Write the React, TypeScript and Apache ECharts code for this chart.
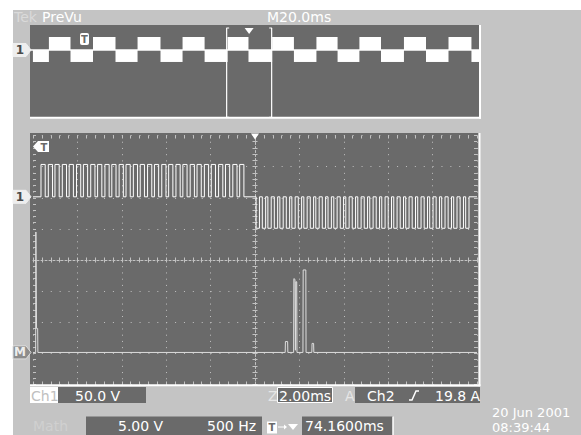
import React, { useEffect, useRef } from "react";
import * as echarts from "echarts";

// ---------- colours ----------
const BG = "#c4c4c4";
const PANEL = "#6a6a6a";
const DOT = "#c2c2c2";
const FONT = "DejaVu Sans";

// ---------- PreVu (record overview), M 20.0 ms/div, 0..200 ms ----------
const previewMinMs = 0;
const previewMaxMs = 200;
// times (ms) where the envelope switches between "pulses below" and "pulses above"
const previewEdgesMs = [1.3, 8.4, 18.0, 28.0, 38.0, 47.8, 58.0, 67.8, 77.6, 87.8, 97.1, 107.6, 117.3, 127.3, 136.7, 146.4, 156.0, 166.2, 176.0, 186.0, 196.2, 199.6];
const previewFirstIsLow = true;
const previewBase = 1.85;
const previewHigh = 2.97;
const previewLow = 0.82;
const previewTriggerMs = 97.4;
const zoomHalfSpanMs = 10;
const zoomBoxTop = 3.74;
const zoomBoxBottom = -3.95;
const zoomHookMs = 1.1;

// ---------- main window, 2.00 ms/div, divisions -4..4 ----------
const timeMin = -10;
const timeMax = 10;
const timeInterval = 2;
const divMin = -4;
const divMax = 4;

const ch1Base = 2.03;
const ch1High = 3.07;
const ch1Low = 1.02;
const ch1UpStartsMs = [-9.64, -9.31, -9.01, -8.68, -8.37, -8.04, -7.73, -7.4, -7.09, -6.76, -6.45, -6.12, -5.81, -5.48, -5.17, -4.84, -4.53, -4.2, -3.89, -3.56, -3.25, -2.92, -2.61, -2.28, -1.97, -1.64, -1.33, -1.0, -0.69];
const ch1UpWidthMs = 0.19;
const ch1DownStartsMs = [0.05, 0.33, 0.58, 0.87, 1.12, 1.41, 1.66, 1.95, 2.2, 2.49, 2.74, 3.03, 3.29, 3.55, 3.84, 4.09, 4.38, 4.63, 4.92, 5.17, 5.46, 5.71, 6.0, 6.25, 6.54, 6.79, 7.08, 7.33, 7.62, 7.87, 8.16, 8.41, 8.7, 8.95, 9.24, 9.49];
const ch1DownWidthMs = 0.15;

const mathTrace = [
  [-10, -2.97], [-9.88, -2.97], [-9.87, 0.9], [-9.85, 0.9], [-9.84, -2.2], [-9.79, -2.2], [-9.78, -2.97],
  [1.36, -2.97], [1.37, -2.62], [1.47, -2.62], [1.48, -2.97],
  [1.74, -2.97], [1.75, -0.6], [1.8, -0.62], [1.82, -2.9], [1.84, -0.7], [1.88, -0.7], [1.89, -2.97],
  [2.16, -2.97], [2.17, -0.32], [2.29, -0.32], [2.3, -2.97],
  [2.56, -2.97], [2.57, -2.68], [2.64, -2.68], [2.65, -2.97],
  [10, -2.97],
];

function buildPreviewBlocks() {
  const out: number[][] = [];
  for (let i = 0; i < previewEdgesMs.length - 1; i++) {
    const low = (i % 2 === 0) === previewFirstIsLow;
    out.push([previewEdgesMs[i], previewEdgesMs[i + 1], low ? previewBase : previewHigh, low ? previewLow : previewBase]);
  }
  return out;
}

function buildCh1() {
  const pts: number[][] = [[timeMin, ch1Base]];
  ch1UpStartsMs.forEach((s) => {
    pts.push([s, ch1Base], [s, ch1High], [s + ch1UpWidthMs, ch1High], [s + ch1UpWidthMs, ch1Base]);
  });
  ch1DownStartsMs.forEach((s) => {
    pts.push([s, ch1Base], [s, ch1Low], [s + ch1DownWidthMs, ch1Low], [s + ch1DownWidthMs, ch1Base]);
  });
  pts.push([timeMax, ch1Base]);
  return pts;
}

function txt(text: string, x: number, y: number, fill: string, size = 14, extra: any = {}) {
  return {
    type: "text",
    z: 100,
    x,
    y,
    style: {
      text,
      fill,
      fontSize: size,
      fontFamily: FONT,
      verticalAlign: "middle",
      textVerticalAlign: "middle",
      ...extra,
    },
  };
}

function marker(label: string, y: number, fill: string, textFill: string, stroke?: string) {
  return [
    {
      type: "polygon",
      z: 100,
      shape: { points: [[13, y - 6.5], [26, y - 6.5], [31, y], [26, y + 6.5], [13, y + 6.5]] },
      style: { fill, stroke: stroke || fill, lineWidth: 1 },
    },
    txt(label, 20, y, textFill, 12, { align: "center", textAlign: "center", fontWeight: "bold" }),
  ];
}

const tickStyle = { color: DOT, width: 1 };

export default function App() {
  const ref = useRef<HTMLDivElement>(null);

  useEffect(() => {
    if (!ref.current) return;
    const chart = echarts.init(ref.current, undefined, { renderer: "svg" });

    const hidden = { show: false };
    const borderAxisX = (gridIndex: number, position: string, split: boolean) => ({
      type: "value",
      gridIndex,
      position,
      min: timeMin,
      max: timeMax,
      interval: timeInterval,
      axisLine: { show: false, onZero: false },
      axisTick: { show: true, inside: true, length: 3, lineStyle: tickStyle },
      minorTick: { show: true, splitNumber: 5, length: 3, lineStyle: tickStyle },
      axisLabel: hidden,
      splitLine: { show: split, lineStyle: { color: DOT, width: 1, type: [1, 5.225] } },
    });
    const borderAxisY = (gridIndex: number, position: string, split: boolean) => ({
      type: "value",
      gridIndex,
      position,
      min: divMin,
      max: divMax,
      interval: 1,
      axisLine: { show: false, onZero: false },
      axisTick: { show: true, inside: true, length: 3, lineStyle: tickStyle },
      minorTick: { show: true, splitNumber: 5, length: 3, lineStyle: tickStyle },
      axisLabel: hidden,
      splitLine: { show: split, lineStyle: { color: DOT, width: 1, type: [1, 7.88] } },
    });
    const crossAxisX = (gridIndex: number, inside: boolean, line: boolean) => ({
      type: "value",
      gridIndex,
      min: timeMin,
      max: timeMax,
      interval: timeInterval,
      axisLine: { show: line, onZero: true, lineStyle: { color: DOT, width: 1, type: [2, 2] } },
      axisTick: { show: true, inside, length: 2.5, lineStyle: tickStyle },
      minorTick: { show: true, splitNumber: 5, length: 2.5, lineStyle: tickStyle },
      axisLabel: hidden,
      splitLine: hidden,
    });
    const crossAxisY = (gridIndex: number, inside: boolean, line: boolean) => ({
      type: "value",
      gridIndex,
      min: divMin,
      max: divMax,
      interval: 1,
      axisLine: { show: line, onZero: true, lineStyle: { color: DOT, width: 1, type: [2, 2] } },
      axisTick: { show: true, inside, length: 2.5, lineStyle: tickStyle },
      minorTick: { show: true, splitNumber: 5, length: 2.5, lineStyle: tickStyle },
      axisLabel: hidden,
      splitLine: hidden,
    });

    const mainGrid = { left: 33, top: 135.5, width: 444, height: 249 };

    const graphics: any[] = [
      { type: "rect", z: -100, shape: { x: 13, y: 10, width: 568, height: 425 }, style: { fill: BG } },
      { type: "rect", z: -90, shape: { x: 30, y: 25, width: 449, height: 93 }, style: { fill: PANEL } },
      { type: "rect", z: -90, shape: { x: 30, y: 133, width: 448.5, height: 252 }, style: { fill: PANEL } },
      // bevel edges
      { type: "line", z: 60, shape: { x1: 30, y1: 117.7, x2: 481, y2: 117.7 }, style: { stroke: "#fff", lineWidth: 2 } },
      { type: "line", z: 60, shape: { x1: 480, y1: 25, x2: 480, y2: 118.7 }, style: { stroke: "#fff", lineWidth: 2 } },
      { type: "line", z: 60, shape: { x1: 30, y1: 385.3, x2: 480.5, y2: 385.3 }, style: { stroke: "#fff", lineWidth: 2 } },
      { type: "line", z: 60, shape: { x1: 479.5, y1: 133, x2: 479.5, y2: 386.3 }, style: { stroke: "#fff", lineWidth: 2 } },
      // header
      txt("Tek", 14, 17, "#dadada"),
      txt("PreVu", 42, 17, "#ffffff"),
      txt("M20.0ms", 267, 17, "#ffffff"),
      // preview trigger-point flag
      { type: "rect", z: 100, shape: { x: 80, y: 33, width: 9, height: 12, r: 2 }, style: { fill: "#ffffff" } },
      txt("T", 84.5, 39.5, PANEL, 10, { align: "center", textAlign: "center", fontWeight: "bold" }),
      // main trigger-point flag (off-screen to the left)
      { type: "polygon", z: 100, shape: { points: [[33, 146.5], [38, 141], [49, 141], [49, 152], [38, 152]] }, style: { fill: "#ffffff" } },
      txt("T", 44, 147, PANEL, 10, { align: "center", textAlign: "center", fontWeight: "bold" }),
      // channel markers
      ...marker("1", 50, "#eeeeee", "#4a4a4a"),
      ...marker("1", 196.8, "#eeeeee", "#4a4a4a"),
      ...marker("M", 352.4, "#8c8c8c", "#eeeeee", "#dddddd"),
      // bottom readouts, row 1
      { type: "rect", z: 90, shape: { x: 30, y: 387, width: 28, height: 16 }, style: { fill: "#ffffff" } },
      txt("Ch1", 31, 395.5, "#c0c0c0"),
      { type: "rect", z: 90, shape: { x: 58, y: 387, width: 88, height: 16 }, style: { fill: PANEL } },
      txt("50.0 V", 75, 395.5, "#ffffff"),
      txt("Z", 268, 395.5, "#e6e6e6"),
      { type: "rect", z: 90, shape: { x: 277.5, y: 387.5, width: 55, height: 15 }, style: { fill: PANEL, stroke: "#ffffff", lineWidth: 1 } },
      txt("2.00ms", 279, 395.5, "#ffffff"),
      txt("A", 345, 395.5, "#e6e6e6"),
      { type: "rect", z: 90, shape: { x: 355, y: 387, width: 125, height: 16 }, style: { fill: PANEL } },
      txt("Ch2", 367, 395.5, "#ffffff"),
      { type: "polyline", z: 100, shape: { points: [[409, 400], [412, 400], [416, 391], [419, 391]] }, style: { stroke: "#ffffff", lineWidth: 1.5, fill: null } },
      txt("19.8 A", 435, 395.5, "#ffffff"),
      // bottom readouts, row 2
      txt("Math", 33, 426, "#d0d0d0"),
      { type: "rect", z: 90, shape: { x: 86, y: 416.5, width: 176, height: 19 }, style: { fill: PANEL } },
      txt("5.00 V", 118, 426, "#ffffff"),
      txt("500 Hz", 207, 426, "#ffffff"),
      { type: "rect", z: 100, shape: { x: 267, y: 421.5, width: 10, height: 12 }, style: { fill: "#ffffff" } },
      txt("T", 272, 427.5, PANEL, 10, { align: "center", textAlign: "center", fontWeight: "bold" }),
      { type: "line", z: 100, shape: { x1: 278, y1: 427, x2: 285, y2: 427 }, style: { stroke: "#ffffff", lineWidth: 1 } },
      { type: "polygon", z: 100, shape: { points: [[284, 424.5], [287, 427], [284, 429.5]] }, style: { fill: "#ffffff" } },
      { type: "polygon", z: 100, shape: { points: [[288, 424], [298, 424], [293, 430]] }, style: { fill: "#ffffff" } },
      { type: "rect", z: 90, shape: { x: 302, y: 416.5, width: 91, height: 19 }, style: { fill: PANEL } },
      { type: "line", z: 95, shape: { x1: 393, y1: 416.5, x2: 393, y2: 435 }, style: { stroke: "#ffffff", lineWidth: 1.5 } },
      txt("74.1600ms", 305, 426, "#ffffff"),
      txt("20 Jun 2001", 492, 412, "#ffffff", 13, { lineHeight: 13 }),
      txt("08:39:44", 492, 427.5, "#ffffff", 13, { lineHeight: 13 }),
    ];

    const option: any = {
      animation: false,
      backgroundColor: "#ffffff",
      grid: [
        { left: 30, top: 25, width: 450, height: 93, show: false },
        { ...mainGrid, show: false },
        { ...mainGrid, show: false },
        { ...mainGrid, show: false },
      ],
      xAxis: [
        { type: "value", gridIndex: 0, min: previewMinMs, max: previewMaxMs, show: false },
        borderAxisX(1, "bottom", true),
        borderAxisX(1, "top", false),
        crossAxisX(2, true, true),
        crossAxisX(3, false, false),
      ],
      yAxis: [
        { type: "value", gridIndex: 0, min: divMin, max: divMax, show: false },
        borderAxisY(1, "left", true),
        borderAxisY(1, "right", false),
        crossAxisY(2, true, true),
        crossAxisY(3, false, false),
      ],
      graphic: { elements: graphics },
      series: [
        {
          type: "line",
          name: "preview baseline",
          xAxisIndex: 0,
          yAxisIndex: 0,
          data: [[previewMinMs, previewBase], [previewMaxMs, previewBase]],
          showSymbol: false,
          lineStyle: { color: "#ffffff", width: 1.5 },
          silent: true,
        },
        {
          type: "custom",
          name: "preview envelope",
          xAxisIndex: 0,
          yAxisIndex: 0,
          data: buildPreviewBlocks(),
          encode: { x: [0, 1], y: [2, 3] },
          silent: true,
          renderItem: (params: any, api: any) => {
            const a = api.coord([api.value(0), api.value(2)]);
            const b = api.coord([api.value(1), api.value(3)]);
            return {
              type: "rect",
              shape: { x: a[0], y: a[1], width: b[0] - a[0], height: b[1] - a[1] },
              style: { fill: "#ffffff" },
            };
          },
        },
        {
          type: "line",
          name: "zoom box left",
          xAxisIndex: 0,
          yAxisIndex: 0,
          data: [
            [previewTriggerMs - zoomHalfSpanMs + zoomHookMs, zoomBoxTop],
            [previewTriggerMs - zoomHalfSpanMs, zoomBoxTop],
            [previewTriggerMs - zoomHalfSpanMs, zoomBoxBottom],
            [previewTriggerMs - zoomHalfSpanMs + zoomHookMs, zoomBoxBottom],
          ],
          showSymbol: false,
          lineStyle: { color: "#ffffff", width: 1.2 },
          silent: true,
          markPoint: {
            symbol: "triangle",
            symbolSize: [9, 6],
            symbolRotate: 180,
            symbolOffset: [0, 3],
            itemStyle: { color: "#ffffff" },
            label: { show: false },
            data: [{ coord: [previewTriggerMs, zoomBoxTop] }],
          },
        },
        {
          type: "line",
          name: "zoom box right",
          xAxisIndex: 0,
          yAxisIndex: 0,
          data: [
            [previewTriggerMs + zoomHalfSpanMs - zoomHookMs, zoomBoxTop],
            [previewTriggerMs + zoomHalfSpanMs, zoomBoxTop],
            [previewTriggerMs + zoomHalfSpanMs, zoomBoxBottom],
            [previewTriggerMs + zoomHalfSpanMs - zoomHookMs, zoomBoxBottom],
          ],
          showSymbol: false,
          lineStyle: { color: "#ffffff", width: 1.2 },
          silent: true,
        },
        {
          type: "line",
          name: "Ch1",
          xAxisIndex: 1,
          yAxisIndex: 1,
          data: buildCh1(),
          showSymbol: false,
          clip: true,
          lineStyle: { color: "#ffffff", width: 1 },
          silent: true,
          markPoint: {
            symbol: "triangle",
            symbolSize: [8, 6],
            symbolRotate: 180,
            symbolOffset: [0, 1],
            itemStyle: { color: "#ffffff" },
            label: { show: false },
            data: [{ coord: [0, divMax] }],
          },
        },
        {
          type: "line",
          name: "Math",
          xAxisIndex: 1,
          yAxisIndex: 1,
          data: mathTrace,
          showSymbol: false,
          clip: true,
          lineStyle: { color: "#dedede", width: 1 },
          silent: true,
        },
      ],
    };

    chart.setOption(option);
    return () => chart.dispose();
  }, []);

  return (
    <div
      ref={ref}
      style={{ position: "absolute", left: 0, top: 0, width: 581, height: 435 }}
    />
  );
}
